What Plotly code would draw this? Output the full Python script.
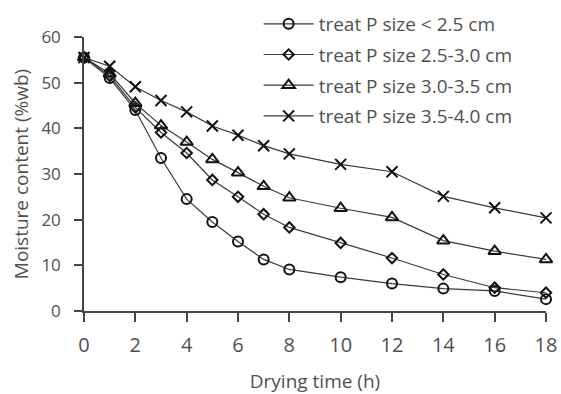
import plotly.graph_objects as go

time_h = [0, 1, 2, 3, 4, 5, 6, 7, 8, 10, 12, 14, 16, 18]
s_lt25 = [55.5, 51.0, 44.0, 33.5, 24.5, 19.5, 15.2, 11.3, 9.1, 7.4, 6.0, 4.9, 4.4, 2.6]
s_25_30 = [55.5, 51.5, 44.6, 39.1, 34.6, 28.7, 25.0, 21.2, 18.3, 14.9, 11.6, 8.0, 5.1, 4.0]
s_30_35 = [55.5, 52.0, 45.5, 40.6, 37.0, 33.2, 30.3, 27.3, 24.8, 22.5, 20.5, 15.4, 13.1, 11.3]
s_35_40 = [55.5, 53.6, 49.1, 46.1, 43.6, 40.5, 38.5, 36.2, 34.4, 32.1, 30.5, 25.1, 22.6, 20.4]
names = ["treat P size < 2.5 cm", "treat P size 2.5-3.0 cm",
         "treat P size 3.0-3.5 cm", "treat P size 3.5-4.0 cm"]
series = [s_lt25, s_25_30, s_30_35, s_35_40]
symbols = ["circle-open", "diamond-open", "triangle-up-open", "x-thin-open"]
sizes = [10, 8, 11, 11]

txt = "#505050"
fig = go.Figure()
for i, (nm, ys, sym, sz) in enumerate(zip(names, series, symbols, sizes)):
    fig.add_trace(go.Scatter(
        x=time_h, y=ys, name=nm, mode="lines+markers", legendgroup=f"g{i}",
        line=dict(color="#3a3a3a", width=1.2),
        marker=dict(symbol=sym, size=sz, color="#111111",
                    line=dict(color="#111111", width=2)),
        cliponaxis=False,
    ))

fig.update_layout(
    width=561, height=394,
    margin=dict(l=84, r=15, t=37, b=83, autoexpand=False),
    paper_bgcolor="white", plot_bgcolor="white",
    font=dict(family="Open Sans, DejaVu Sans, sans-serif", size=19, color=txt),
    showlegend=True,
    legend=dict(x=0.378, y=1.117, xanchor="left", yanchor="top",
                bgcolor="rgba(0,0,0,0)", font=dict(size=19, color=txt),
                tracegroupgap=3, traceorder="grouped", itemwidth=50),
    xaxis=dict(range=[0, 18], tickvals=list(range(0, 19, 2)), showgrid=False,
               zeroline=False, showline=True, linecolor="#444", linewidth=1.5,
               ticks="outside", ticklen=9, tickcolor="#444", tickwidth=1.5,
               ticklabelstandoff=6, automargin=False,
               title=dict(text="Drying time (h)", standoff=18, font=dict(size=19)),
               tickfont=dict(size=20)),
    yaxis=dict(range=[0, 60], tickvals=list(range(0, 61, 10)), showgrid=False,
               zeroline=False, showline=True, linecolor="#444", linewidth=1.5,
               ticks="outside", ticklen=8, tickcolor="#444", tickwidth=1.5,
               ticklabelstandoff=10, automargin=False,
               title=dict(text="Moisture content (%wb)", standoff=8, font=dict(size=19)),
               tickfont=dict(size=17)),
)
fig.write_html("out.html")
